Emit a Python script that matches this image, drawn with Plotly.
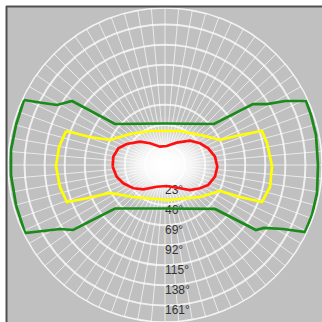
import numpy as np
import plotly.graph_objects as go

# Isoline contours, in chart angle units (horizontal / vertical offset from centre, degrees)
green_x = [-161.7, -139.9, -123.8, -106.6, -57.3, 0.0, 56.2, 100.9, 116.9, 137.6, 161.7, 167.4, 173.1, 175.4,
           174.3, 168.5, 160.5, 135.3, 113.5, 104.3, 57.3, 0.0, -57.3, -105.5, -120.4, -160.5, -170.8, -176.6,
           -176.6, -170.8]
green_y = [74.5, 71.1, 68.8, 73.4, 47.0, 47.6, 47.0, 69.9, 69.9, 73.4, 73.4, 57.3, 34.4, 0.0,
           -32.1, -57.3, -76.8, -73.4, -72.2, -74.5, -50.4, -49.9, -49.9, -74.5, -73.4, -78.0, -45.9, -11.5,
           17.2, 45.9]

yellow_x = [-113.5, -86.0, -63.1, -40.1, -17.2, 17.2, 45.9, 63.1, 86.0, 111.2, 116.9, 122.7, 120.4,
            111.2, 86.0, 63.1, 40.1, 2.3, -36.7, -63.1, -88.3, -112.4, -120.4, -125.0, -121.5]
yellow_y = [39.0, 32.1, 28.7, 35.5, 39.0, 39.0, 33.2, 28.7, 34.4, 39.0, 25.2, -1.1, -25.2,
            -42.4, -36.7, -29.8, -36.7, -40.1, -36.7, -32.1, -37.8, -42.4, -25.2, -1.1, 20.6]

red_x = [-60.0, -59.3, -53.5, -43.9, -28.7, -17.2, -5.7, 1.9, 13.4, 28.7, 40.1, 49.6, 57.3, 60.0,
         57.3, 49.6, 40.1, 28.7, 17.2, 1.9, -9.5, -24.9, -36.3, -47.8, -55.4]
red_y = [-1.9, 9.5, 19.1, 24.1, 26.7, 24.9, 21.0, 21.8, 25.6, 27.9, 24.9, 19.1, 9.5, -1.9,
         -13.4, -22.9, -26.7, -28.7, -26.7, -24.1, -24.9, -27.9, -26.7, -21.0, -13.4]

ring_values = [23, 46, 69, 92, 115, 138, 161]
ring_labels = ["23°", "46°", "69°", "92°", "115°", "138°", "161°"]

GRAY = "#c0c0c0"


def to_polar(xs, ys):
    x = np.array(xs + xs[:1])
    y = np.array(ys + ys[:1])
    return np.hypot(x, y), np.degrees(np.arctan2(y, x))


fig = go.Figure()

# soft white glow in the centre
for th, rr, sz, a in [(0, 30, 80, 0.55), (180, 30, 80, 0.55), (0, 0, 100, 0.95), (0, 12, 55, 0.8), (180, 12, 55, 0.8)]:
    fig.add_trace(go.Scatterpolar(
        r=[rr], theta=[th], mode="markers",
        marker=dict(size=sz, color="rgba(255,255,255,0)", line=dict(width=0),
                    gradient=dict(type="radial", color=f"rgba(255,255,255,{a})")),
        hoverinfo="skip"))

# ring labels
fig.add_trace(go.Scatterpolar(
    r=ring_values, theta=[270] * len(ring_values), mode="text",
    text=ring_labels, textposition="bottom right",
    textfont=dict(family="Liberation Sans", size=12, color="#333333"),
    hoverinfo="skip"))

for xs, ys, col in [(green_x, green_y, "#1a8a1a"), (yellow_x, yellow_y, "#ffff00"), (red_x, red_y, "#ff1010")]:
    r, th = to_polar(xs, ys)
    fig.add_trace(go.Scatterpolar(r=r, theta=th, mode="lines",
                                  line=dict(color=col, width=2.7), hoverinfo="skip"))

fig.update_layout(
    width=322, height=322, margin=dict(l=0, r=0, t=0, b=0),
    paper_bgcolor="white", showlegend=False,
    polar=dict(
        domain=dict(x=[8 / 322, 1.0], y=[0.0, 314 / 322]),
        bgcolor=GRAY,
        radialaxis=dict(range=[0, 180], tickvals=ring_values, showticklabels=False, ticks="",
                        showline=False, gridcolor="rgba(255,255,255,0.75)", gridwidth=1.5),
        angularaxis=dict(dtick=5, showticklabels=False, ticks="", showline=True,
                         linecolor="rgba(255,255,255,0.8)", linewidth=1.5,
                         gridcolor="rgba(255,255,255,0.65)", gridwidth=1.4),
    ),
    shapes=[
        dict(type="rect", xref="paper", yref="paper", x0=7 / 322, x1=1, y0=0, y1=315 / 322,
             fillcolor=GRAY, line=dict(width=0), layer="below"),
        dict(type="line", xref="paper", yref="paper", x0=6 / 322, x1=1, y0=315.5 / 322, y1=315.5 / 322,
             line=dict(color="#505050", width=2)),
        dict(type="line", xref="paper", yref="paper", x0=6.5 / 322, x1=6.5 / 322, y0=0, y1=316 / 322,
             line=dict(color="#505050", width=2)),
    ],
)

fig.write_html("out.html")
